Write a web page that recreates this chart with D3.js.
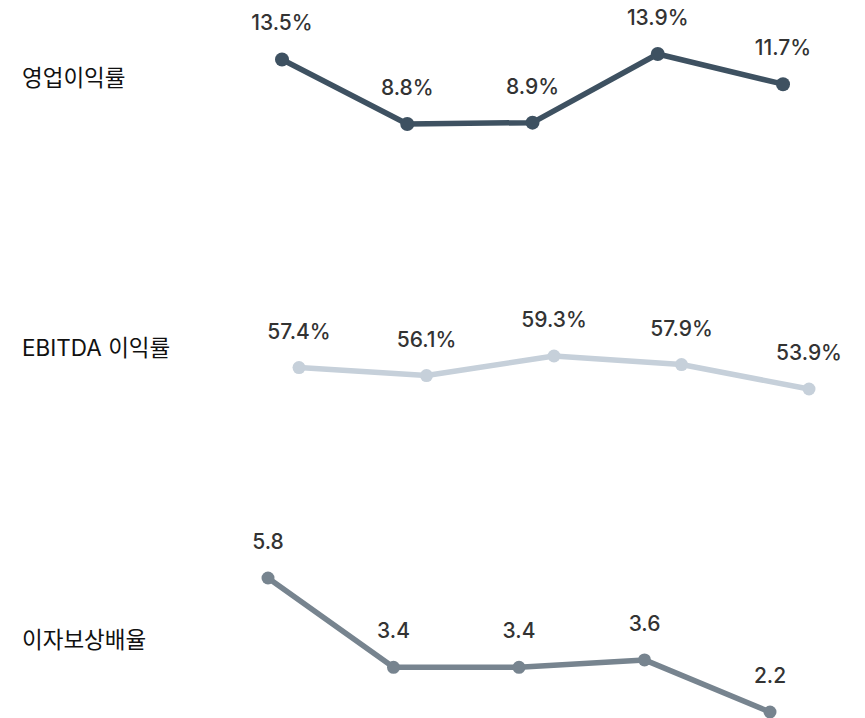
<!DOCTYPE html>
<html>
<head>
<meta charset="utf-8">
<script src="https://cdn.jsdelivr.net/npm/d3@7"></script>
<style>
  body { margin: 0; background: #fff; }
  svg { display: block; font-family: Inter, "Noto Sans CJK KR", sans-serif; }
</style>
</head>
<body>
<svg width="865" height="718"></svg>
<script>
// Chart data
var periods = ["P1", "P2", "P3", "P4", "P5"];
var rowNames = ["영업이익률", "EBITDA 이익률", "이자보상배율"];
var operatingMargin = [13.5, 8.8, 8.9, 13.9, 11.7];
var ebitdaMargin = [57.4, 56.1, 59.3, 57.9, 53.9];
var interestCoverage = [5.8, 3.4, 3.4, 3.6, 2.2];
var valueSuffix = ["%", "%", ""];

// Layout per row (each row has its own scale)
var rows = [
    { values: operatingMargin, color: "#3e5161", r: 7, labelY: 86, x: [282, 783], y: [124, 54] },
    { values: ebitdaMargin, color: "#c6d0da", r: 6.5, labelY: 356, x: [299, 809], y: [389, 356] },
    { values: interestCoverage, color: "#77848f", r: 6.5, labelY: 648, x: [268, 770], y: [712, 578] }
];

var svg = d3.select("svg");

rows.forEach(function (row, ri) {
    var x = d3.scalePoint()
        .domain(periods)
        .range(row.x);
    var y = d3.scaleLinear()
        .domain(d3.extent(row.values))
        .range(row.y);

    var g = svg.append("g").attr("class", "row");

    g.append("text")
        .attr("x", 22)
        .attr("y", row.labelY)
        .attr("font-size", "22.5px")
        .attr("fill", "#111")
        .text(rowNames[ri]);

    var line = d3.line()
        .x(function (d, i) { return x(periods[i]); })
        .y(function (d) { return y(d); });

    g.append("path")
        .datum(row.values)
        .attr("d", line)
        .attr("fill", "none")
        .attr("stroke", row.color)
        .attr("stroke-width", 5.5)
        .attr("stroke-linejoin", "round");

    g.selectAll(".dot")
        .data(row.values)
        .enter()
        .append("circle")
        .attr("class", "dot")
        .attr("cx", function (d, i) { return x(periods[i]); })
        .attr("cy", d => y(d))
        .attr("r", row.r)
        .attr("fill", row.color);

    g.selectAll(".val")
        .data(row.values)
        .enter()
        .append("text")
        .attr("class", "val")
        .attr("x", function (d, i) { return x(periods[i]); })
        .attr("y", d => y(d) - 29)
        .attr("text-anchor", "middle")
        .attr("font-size", "21px")
        .attr("font-weight", 500)
        .attr("fill", "#333")
        .text(d => d.toFixed(1) + valueSuffix[ri]);
});
</script>
</body>
</html>
